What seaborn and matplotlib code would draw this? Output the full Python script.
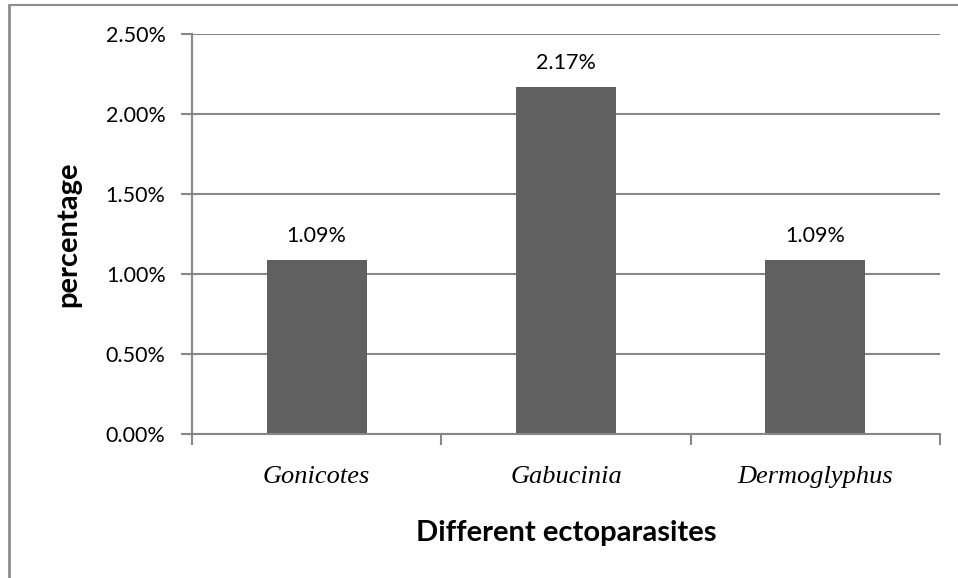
import matplotlib
matplotlib.use("Agg")
import matplotlib.pyplot as plt
from matplotlib.lines import Line2D
from matplotlib.ticker import FuncFormatter, MultipleLocator
import seaborn as sns
import pandas as pd

# Prevalence of each ectoparasite (%)
parasites = ["Gonicotes", "Gabucinia", "Dermoglyphus"]
prevalence = [1.09, 2.17, 1.09]
value_labels = ["1.09%", "2.17%", "1.09%"]

df = pd.DataFrame({"parasite": parasites, "prevalence": prevalence})

sns.set_theme(style="white")
plt.rcParams["font.family"] = ["Lato", "DejaVu Sans"]

grid_col = "#878787"
bar_col = "#606060"

fig = plt.figure(figsize=(9.58, 5.78), dpi=100)
ax = fig.add_axes([192 / 958, 1 - 434 / 578, (940 - 192) / 958, 400 / 578])

sns.barplot(data=df, x="parasite", y="prevalence", color=bar_col,
            width=0.4, saturation=1, linewidth=0, ax=ax, zorder=3)

ax.set_ylim(0, 2.5)
ax.set_xlim(-0.5, 2.5)
ax.yaxis.set_major_locator(MultipleLocator(0.5))
ax.yaxis.set_major_formatter(FuncFormatter(lambda v, _: f"{v:.2f}%"))
ax.grid(axis="y", color=grid_col, linewidth=1.5, zorder=0)
ax.grid(axis="x", visible=False)

for side in ["top", "right"]:
    ax.spines[side].set_visible(False)
for side in ["left", "bottom"]:
    ax.spines[side].set_color(grid_col)
    ax.spines[side].set_linewidth(1.5)
    ax.spines[side].set_zorder(4)

ax.tick_params(axis="y", which="major", direction="out", length=8, width=1.5,
               color=grid_col, left=True, pad=11, labelsize=15.5, labelcolor="black")
ax.set_xticks([-0.5, 0.5, 1.5, 2.5], minor=False)
ax.set_xticklabels([])
ax.set_xticks([0, 1, 2], minor=True)
ax.set_xticklabels(parasites, minor=True, fontstyle="italic",
                   family=["Liberation Serif"], fontsize=19)
ax.tick_params(axis="x", which="major", direction="out", length=8, width=1.5,
               color=grid_col, bottom=True)
ax.tick_params(axis="x", which="minor", length=0, pad=23, labelcolor="black")

for i, (v, lab) in enumerate(zip(prevalence, value_labels)):
    ax.annotate(lab, (i, v), xytext=(0, 13), textcoords="offset points",
                ha="center", va="baseline", fontsize=15.5, color="black")

ax.set_xlabel("Different ectoparasites", fontsize=21, fontweight="bold",
              color="black")
ax.set_ylabel("percentage", fontsize=21, fontweight="bold", color="black")
ax.xaxis.set_label_coords(0.5, (434 - 520) / 400)
ax.yaxis.set_label_coords((81 - 192) / 748, 0.5)

# chart-area frame (left and top edges)
fig.add_artist(Line2D([8.5 / 958, 8.5 / 958], [0, 1 - 5 / 578],
                      transform=fig.transFigure, color="#8c8c8c", linewidth=2))
fig.add_artist(Line2D([8.5 / 958, 1], [1 - 5 / 578, 1 - 5 / 578],
                      transform=fig.transFigure, color="#8c8c8c", linewidth=1.5))

fig.savefig("out.png", dpi=100)
